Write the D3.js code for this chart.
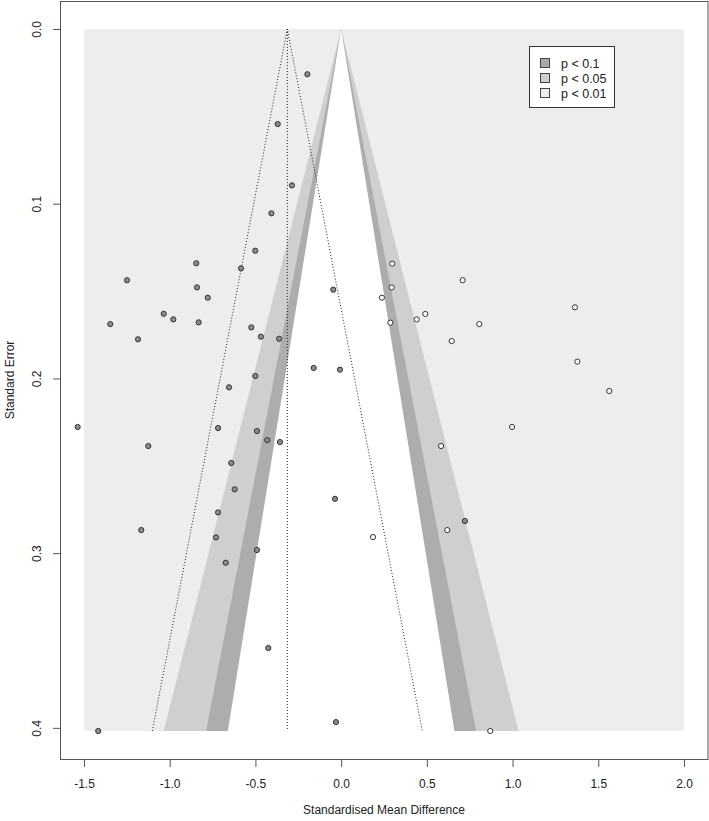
<!DOCTYPE html>
<html>
<head>
<meta charset="utf-8">
<script src="https://cdn.jsdelivr.net/npm/d3@7"></script>
<style>
body { margin: 0; background: #fff; }
text { font-family: "Liberation Sans", Arial, sans-serif; fill: #222; }
</style>
</head>
<body>
<div class="featured"></div>
<script>
// observed studies (effect, standard error)
var obsEffect = [-0.197, -0.370, -0.287, -0.407, -0.501, -0.845, -0.584, -1.249, -0.841, -0.778,
                 -1.035, -0.979, -1.347, -0.831, -0.524, -0.468, -0.362, -1.185, -0.160, -0.007,
                 -0.501, -0.654, -1.537, -0.718, -0.491, -0.431, -0.357, -1.125, -0.641, -0.621,
                 -0.036, -0.718, -1.166, -0.730, -0.491, -0.673, -0.425, -1.417, -0.030, -0.046,
                  0.722];
var obsSE     = [0.0259, 0.0544, 0.0895, 0.1055, 0.1269, 0.1341, 0.1370, 0.1438, 0.1479, 0.1538,
                 0.1630, 0.1662, 0.1689, 0.1679, 0.1708, 0.1761, 0.1773, 0.1776, 0.1940, 0.1950,
                 0.1986, 0.2051, 0.2278, 0.2284, 0.2301, 0.2353, 0.2364, 0.2387, 0.2484, 0.2635,
                 0.2689, 0.2767, 0.2868, 0.2910, 0.2982, 0.3055, 0.3543, 0.4018, 0.3967, 0.1492,
                 0.2816];

// filled-in studies (trim and fill)
var fillEffect = [0.298, 0.709, 0.295, 0.238, 1.364, 0.491, 0.441, 0.287, 0.806, 0.645,
                  1.378, 1.564, 0.997, 0.583, 0.619, 0.186, 0.870];
var fillSE     = [0.1343, 0.1438, 0.1479, 0.1538, 0.1593, 0.1631, 0.1662, 0.1681, 0.1689, 0.1786,
                  0.1904, 0.2072, 0.2278, 0.2387, 0.2868, 0.2908, 0.4018];

var pooled = -0.314;
var seMax = 0.4018;

var legendLabels = ["p < 0.1", "p < 0.05", "p < 0.01"];
var legendFill   = ["#a9a9a9", "#cfcfcf", "#ececec"];
var zCrit        = [1.645, 1.96, 2.576];

var xTicks = [-1.5, -1.0, -0.5, 0.0, 0.5, 1.0, 1.5, 2.0];
var yTicks = [0.0, 0.1, 0.2, 0.3, 0.4];

var W = 709, H = 821;
var svg = d3.select(".featured").append("svg").attr("width", W).attr("height", H);

var x = d3.scaleLinear().domain([-1.5, 2.0]).range([84, 684]);
var y = d3.scaleLinear().domain([0, seMax]).range([29, 731]);

// outer region (p < 0.01)
svg.append("rect")
	.attr("x", x(-1.5)).attr("y", y(0))
	.attr("width", x(2.0) - x(-1.5)).attr("height", y(seMax) - y(0))
	.attr("fill", "#ededed");

// contour bands, drawn from outside to inside
var bandFill = ["#cfcfcf", "#adadad", "#ffffff"];
var bandZ = [zCrit[2], zCrit[1], zCrit[0]];
bandZ.forEach(function(z, i) {
	var pts = [[0, 0], [-z * seMax, seMax], [z * seMax, seMax]];
	svg.append("path")
		.attr("d", d3.line().x(function(d){ return x(d[0]); }).y(function(d){ return y(d[1]); })(pts) + "Z")
		.attr("fill", bandFill[i]);
});

// funnel around the pooled estimate
var funnel = [[pooled - 1.96 * seMax, seMax], [pooled, 0], [pooled + 1.96 * seMax, seMax]];
svg.append("path")
	.attr("d", d3.line().x(function(d){ return x(d[0]); }).y(function(d){ return y(d[1]); })(funnel))
	.attr("fill", "none").attr("stroke", "#222").attr("stroke-width", 1)
	.attr("stroke-dasharray", "1,2");
svg.append("line")
	.attr("x1", x(pooled)).attr("x2", x(pooled))
	.attr("y1", y(0)).attr("y2", y(seMax))
	.attr("stroke", "#222").attr("stroke-width", 1)
	.attr("stroke-dasharray", "1,2");

// box
svg.append("rect")
	.attr("x", 60.5).attr("y", 1.5).attr("width", 647.5).attr("height", 758)
	.attr("fill", "none").attr("stroke", "#555").attr("stroke-width", 1);

// axes
var xAxis = svg.append("g").attr("transform", "translate(0,760)")
	.call(d3.axisBottom(x).tickValues(xTicks).tickSize(7).tickPadding(12)
		.tickFormat(function(d){ return d.toFixed(1); }));
xAxis.select(".domain").remove();
xAxis.selectAll("line").attr("stroke", "#555");
xAxis.selectAll("text").style("font-size", "12px").attr("fill", "#222");

var yAxis = svg.append("g").attr("transform", "translate(60,0)")
	.call(d3.axisLeft(y).tickValues(yTicks).tickSize(7)
		.tickFormat(function(d){ return d.toFixed(1); }));
yAxis.select(".domain").remove();
yAxis.selectAll("line").attr("stroke", "#555");
yAxis.selectAll("text")
	.style("font-size", "12px").attr("fill", "#222")
	.attr("x", 0).attr("dy", 0)
	.attr("text-anchor", "middle")
	.attr("transform", "translate(-19,0) rotate(-90)");

svg.append("text")
	.attr("x", 384).attr("y", 814)
	.attr("text-anchor", "middle").style("font-size", "12px")
	.text("Standardised Mean Difference");
svg.append("text")
	.attr("transform", "translate(14,380) rotate(-90)")
	.attr("text-anchor", "middle").style("font-size", "12px")
	.text("Standard Error");

// points
var filled = fillEffect.map(function(d, i){ return {x: d, se: fillSE[i]}; });
var observed = obsEffect.map(function(d, i){ return {x: d, se: obsSE[i]}; });

svg.selectAll("circle.fill").data(filled).enter().append("circle")
	.attr("class", "fill")
	.attr("cx", function(d){ return x(d.x); })
	.attr("cy", function(d){ return y(d.se); })
	.attr("r", 2.6)
	.attr("fill", "#fff").attr("stroke", "#333").attr("stroke-width", 1);

svg.selectAll("circle.obs").data(observed).enter().append("circle")
	.attr("class", "obs")
	.attr("cx", function(d){ return x(d.x); })
	.attr("cy", function(d){ return y(d.se); })
	.attr("r", 2.6)
	.attr("fill", "#8c8c8c").attr("stroke", "#333").attr("stroke-width", 1);

// legend
var lg = svg.append("g");
lg.append("rect")
	.attr("x", 529.5).attr("y", 46.5).attr("width", 85).attr("height", 61)
	.attr("fill", "#fff").attr("stroke", "#333").attr("stroke-width", 1);
legendLabels.forEach(function(lab, i) {
	var cy = 63 + i * 15;
	lg.append("rect")
		.attr("x", 540.5).attr("y", cy - 4.5).attr("width", 9).attr("height", 9)
		.attr("fill", legendFill[i]).attr("stroke", "#444").attr("stroke-width", 1);
	lg.append("text")
		.attr("x", 561).attr("y", cy).attr("dy", "0.36em")
		.style("font-size", "12.5px")
		.text(lab);
});
</script>
</body>
</html>
